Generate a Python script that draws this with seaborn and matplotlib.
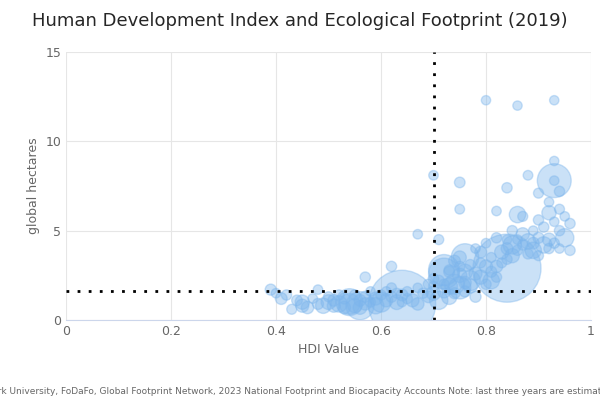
import numpy as np
import pandas as pd
import matplotlib.pyplot as plt
import seaborn as sns

hdi = [0.39, 0.40, 0.41, 0.42, 0.43, 0.44, 0.45, 0.45, 0.46, 0.47, 0.48, 0.48, 0.49, 0.50, 0.50,
       0.51, 0.51, 0.52, 0.52, 0.53, 0.53, 0.54, 0.54, 0.55, 0.55, 0.56, 0.56, 0.57, 0.57, 0.58,
       0.58, 0.59, 0.59, 0.60, 0.60, 0.61, 0.61, 0.62, 0.62, 0.63, 0.63, 0.64, 0.64, 0.65, 0.65,
       0.66, 0.67, 0.67, 0.68, 0.69, 0.69, 0.70, 0.70, 0.70, 0.71, 0.71, 0.72, 0.72, 0.72, 0.73,
       0.73, 0.73, 0.74, 0.74, 0.74, 0.75, 0.75, 0.75, 0.75, 0.76, 0.76, 0.76, 0.77, 0.77, 0.77,
       0.78, 0.78, 0.78, 0.79, 0.79, 0.79, 0.80, 0.80, 0.80, 0.81, 0.81, 0.81, 0.82, 0.82, 0.82,
       0.83, 0.83, 0.84, 0.84, 0.84, 0.85, 0.85, 0.85, 0.86, 0.86, 0.86, 0.87, 0.87, 0.87, 0.88,
       0.88, 0.89, 0.89, 0.89, 0.90, 0.90, 0.90, 0.91, 0.91, 0.92, 0.92, 0.92, 0.93, 0.93, 0.93,
       0.94, 0.94, 0.94, 0.94, 0.95, 0.95, 0.96, 0.96,
       0.67, 0.70, 0.71, 0.75, 0.75, 0.80, 0.86, 0.93, 0.72, 0.56, 0.57, 0.62, 0.64, 0.84, 0.76,
       0.93, 0.82, 0.93, 0.88, 0.92, 0.90, 0.84, 0.73]
gha = [1.7, 1.5, 1.2, 1.4, 0.6, 1.1, 0.8, 1.0, 0.7, 1.2, 0.9, 1.7, 0.8, 1.3, 1.0,
       1.1, 0.8, 1.4, 0.9, 1.2, 0.7, 1.0, 0.9, 1.4, 0.8, 1.1, 0.7, 1.3, 0.9, 1.0,
       1.6, 0.8, 1.2, 1.4, 1.0, 1.6, 1.1, 1.8, 1.3, 1.0, 1.5, 0.9, 1.4, 1.2, 1.6,
       1.1, 1.8, 0.9, 1.5, 2.0, 1.3, 2.3, 1.5, 1.9, 2.2, 1.1, 2.6, 1.6, 2.0, 1.3,
       2.8, 1.9, 3.3, 2.0, 1.5, 2.5, 3.0, 1.8, 3.5, 2.1, 2.7, 1.6, 3.1, 2.2, 1.9,
       4.0, 2.6, 1.3, 3.2, 2.4, 3.8, 2.0, 3.0, 4.3, 3.5, 2.2, 2.7, 4.6, 3.0, 2.4,
       3.8, 3.2, 4.0, 3.4, 4.5, 3.6, 4.2, 5.0, 4.5, 5.9, 3.9, 4.8, 4.2, 5.8, 4.4,
       3.7, 4.3, 5.0, 3.9, 4.6, 5.6, 3.6, 4.2, 5.2, 4.5, 6.0, 4.0, 5.5, 4.3, 7.8,
       6.2, 5.0, 4.0, 7.2, 5.8, 4.6, 5.4, 3.9,
       4.8, 8.1, 4.5, 7.7, 6.2, 12.3, 12.0, 12.3, 2.8, 0.8, 2.4, 3.0, 1.0, 2.9, 3.5,
       7.8, 6.1, 8.9, 8.1, 6.6, 7.1, 7.4, 2.7]
pop = [15, 5, 20, 10, 8, 12, 30, 40, 25, 6, 15, 5, 50, 8, 45,
       20, 30, 10, 60, 15, 25, 200, 110, 10, 40, 20, 35, 15, 25, 8,
       5, 60, 30, 10, 100, 5, 30, 8, 15, 45, 8, 1370, 20, 10, 6,
       30, 5, 25, 10, 8, 20, 12, 40, 6, 15, 80, 270, 30, 10, 50,
       10, 60, 20, 100, 15, 40, 10, 130, 30, 25, 50, 15, 10, 100, 40,
       5, 30, 15, 8, 40, 20, 10, 30, 5, 8, 60, 15, 10, 25, 10,
       40, 8, 20, 10, 5, 40, 80, 10, 6, 60, 10, 30, 10, 8, 50,
       10, 20, 5, 60, 15, 10, 8, 60, 10, 30, 40, 10, 5, 10, 330,
       8, 10, 5, 10, 5, 80, 10, 10,
       5, 5, 8, 12, 6, 4, 4, 4, 270, 220, 10, 10, 5, 1400, 210,
       5, 5, 4, 6, 5, 8, 10, 15]

df = pd.DataFrame({'hdi': hdi, 'gha': gha, 'pop': pop})

sns.set_style('whitegrid')
plt.rcParams['font.family'] = ['DejaVu Sans']
fig, ax = plt.subplots(figsize=(6, 4), dpi=100)
sns.scatterplot(data=df, x='hdi', y='gha', size='pop', sizes=(45, 2400), legend=False,
                color='#7cb5ec', alpha=0.4, edgecolor='#7cb5ec', linewidth=1, ax=ax)
ax.axvline(0.7, color='black', linestyle=(0, (1, 3)), linewidth=2)
ax.axhline(1.6, color='black', linestyle=(0, (1, 3)), linewidth=2)
ax.set_xlim(0, 1)
ax.set_ylim(0, 15)
ax.set_xticks([0, 0.2, 0.4, 0.6, 0.8, 1])
ax.set_xticklabels(['0', '0.2', '0.4', '0.6', '0.8', '1'])
ax.set_yticks([0, 5, 10, 15])
ax.tick_params(labelsize=9, colors='#666666', length=0)
ax.grid(color='#e6e6e6')
for s in ['top', 'right', 'left']:
    ax.spines[s].set_visible(False)
ax.spines['bottom'].set_color('#ccd6eb')
ax.set_xlabel('HDI Value', fontsize=9, color='#666666')
ax.set_ylabel('global hectares', fontsize=9, color='#666666')
fig.suptitle('Human Development Index and Ecological Footprint (2019)', fontsize=13, x=0.5, y=0.97)
fig.text(0.5, 0.015, 'York University, FoDaFo, Global Footprint Network, 2023 National Footprint and Biocapacity Accounts Note: last three years are estimates',
         ha='center', fontsize=6.5, color='#666666')
fig.subplots_adjust(left=0.11, right=0.985, top=0.87, bottom=0.2)
fig.savefig('out.png')
